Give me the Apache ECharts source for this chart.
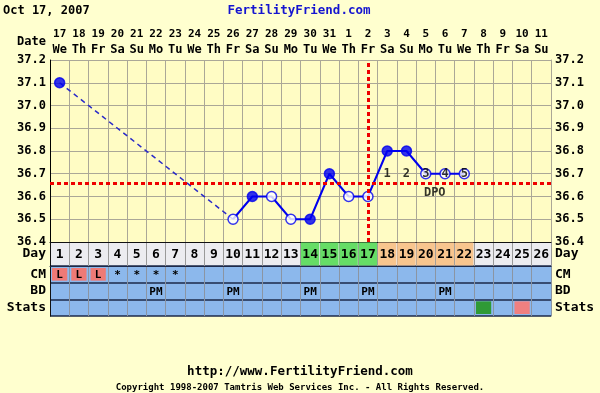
<!DOCTYPE html>
<html><head><meta charset="utf-8">
<script src="https://cdn.jsdelivr.net/npm/echarts@6/dist/echarts.min.js"></script>
<style>html,body{margin:0;padding:0;background:#ffffcf;}#c{width:600px;height:393px;}</style>
</head><body><div id="c"></div><script>
// ---- data ----
const days = ['1','2','3','4','5','6','7','8','9','10','11','12','13','14','15','16','17','18','19','20','21','22','23','24','25','26'];
const dateNums = ['17','18','19','20','21','22','23','24','25','26','27','28','29','30','31','1','2','3','4','5','6','7','8','9','10','11'];
const weekdays = ['We','Th','Fr','Sa','Su','Mo','Tu','We','Th','Fr','Sa','Su','Mo','Tu','We','Th','Fr','Sa','Su','Mo','Tu','We','Th','Fr','Sa','Su'];
const temps = [37.1,null,null,null,null,null,null,null,null,36.5,36.6,36.6,36.5,36.5,36.7,36.6,36.6,36.8,36.8,36.7,36.7,36.7,null,null,null,null];
const filledDays = ['1','11','14','15','18','19'];
const firstSolidDay = '10';
const coverline = 36.66;
const ovulationDay = '17';
const dpo = ['','','','','','','','','','','','','','','','','','1','2','3','4','5','','','',''];
const dpoLevel = 36.7;
const dpoCaptionDay = '20';
const fertileDays = ['14','15','16','17'];
const lutealDays = ['18','19','20','21','22'];
const rowNames = ['CM','BD','Stats'];
const cm = ['L','L','L','*','*','*','*','','','','','','','','','','','','','','','','','','',''];
const bd = ['','','','','','PM','','','','PM','','','','PM','','','PM','','','','PM','','','','',''];
const stats = ['','','','','','','','','','','','','','','','','','','','','','','G','','P',''];
const yTicks = {min:36.4, max:37.2, step:0.1};

// ---- chart ----
const MONO = '"DejaVu Sans Mono", monospace';
const GRIDC = '#aba797';
const L = 50, R = 49;
const chart = echarts.init(document.getElementById('c'), null, {renderer:'canvas'});
const solidStart = days.indexOf(firstSolidDay);
const dashedData = temps.map((v,i)=> i<=solidStart ? v : null);
const solidData = temps.map((v,i)=> i>=solidStart ? v : null);
const pointData = [];
temps.forEach((v,i)=>{
  if (v==null) return;
  const filled = filledDays.includes(days[i]);
  pointData.push({value:[i,v], itemStyle:{color: filled ? '#0000f0' : '#ffffff', borderColor:'#0000f0', borderWidth:1.5}});
});
const dpoData = [];
dpo.forEach((t,i)=>{ if(t) dpoData.push({value:[i,dpoLevel], label:{formatter:t}}); });
dpoData.push({value:[days.indexOf(dpoCaptionDay), dpoLevel], label:{formatter:'DPO', offset:[9,19]}});

const dayCells = days.map((d,i)=>[i,0]);
const lowerCells = [];
const lowerRows = [cm, bd, stats];
lowerRows.forEach((row,r)=>row.forEach((t,i)=>lowerCells.push({value:[i,r], txt:t, row:rowNames[r]})));

const labelStyle = {fontFamily:MONO, fontWeight:'bold', fontSize:12, color:'#000'};

const option = {
  backgroundColor:'#ffffcf',
  animation:false,
  grid:[
    {left:L,right:R,top:60,height:182,show:true,backgroundColor:'#fffcc4',borderWidth:0},
    {left:L,right:R,top:242,height:24,show:true,backgroundColor:'#ececf0',borderWidth:0},
    {left:L,right:R,top:266,height:50,show:true,backgroundColor:'#8cb8ec',borderWidth:0}
  ],
  xAxis:[
    {gridIndex:0,type:'category',data:days,position:'top',boundaryGap:true,
     axisLine:{show:false},axisTick:{show:false},
     splitLine:{show:true,interval:0,lineStyle:{color:GRIDC,width:1}},
     axisLabel:{interval:0,margin:3,lineHeight:15,
       formatter:(v,i)=>'{d|'+dateNums[i]+'}\n{w|'+weekdays[i]+'}',
       rich:{d:{fontFamily:MONO,fontWeight:'bold',fontSize:11,color:'#000',lineHeight:15},
             w:{fontFamily:MONO,fontWeight:'bold',fontSize:12,color:'#000',lineHeight:15}}}},
    {gridIndex:1,type:'category',data:days,position:'top',
     axisLine:{show:true,lineStyle:{color:'#111',width:1}},axisTick:{show:false},axisLabel:{show:false},
     splitLine:{show:true,interval:0,lineStyle:{color:'#9a9a9a'}}},
    {gridIndex:2,type:'category',data:days,position:'top',
     axisLine:{show:true,lineStyle:{color:'#1d2a4a',width:1}},axisTick:{show:false},axisLabel:{show:false},
     splitLine:{show:true,interval:0,lineStyle:{color:'#8b95a3'}}}
  ],
  yAxis:[
    {gridIndex:0,type:'value',min:yTicks.min,max:yTicks.max,interval:yTicks.step,position:'left',
     axisLine:{show:true,lineStyle:{color:'#000',width:1}},axisTick:{show:false},
     splitLine:{show:true,lineStyle:{color:GRIDC,width:1}},
     axisLabel:Object.assign({margin:4,formatter:v=>v.toFixed(1)},labelStyle)},
    {gridIndex:0,type:'value',min:yTicks.min,max:yTicks.max,interval:yTicks.step,position:'right',
     axisLine:{show:true,lineStyle:{color:GRIDC,width:1}},axisTick:{show:false},splitLine:{show:false},
     axisLabel:Object.assign({margin:4,formatter:v=>v.toFixed(1)},labelStyle)},
    {gridIndex:1,type:'category',data:['Day'],position:'left',
     axisLine:{show:true,lineStyle:{color:'#111'}},axisTick:{show:false},
     axisLabel:Object.assign({margin:4,interval:0},labelStyle,{fontSize:13})},
    {gridIndex:1,type:'category',data:['Day'],position:'right',
     axisLine:{show:true,lineStyle:{color:'#9a9a9a'}},axisTick:{show:false},
     axisLabel:Object.assign({margin:4,interval:0},labelStyle,{fontSize:13})},
    {gridIndex:2,type:'category',data:rowNames,inverse:true,position:'left',
     axisLine:{show:true,lineStyle:{color:'#111'}},axisTick:{show:false},
     splitLine:{show:true,interval:0,lineStyle:{color:'#1d2a4a',width:1.5}},
     axisLabel:Object.assign({margin:4,interval:0,hideOverlap:false},labelStyle,{fontSize:13})},
    {gridIndex:2,type:'category',data:rowNames,inverse:true,position:'right',
     axisLine:{show:true,lineStyle:{color:'#8b95a3'}},axisTick:{show:false},
     axisLabel:Object.assign({margin:4,interval:0,hideOverlap:false},labelStyle,{fontSize:13})}
  ],
  graphic:[
    {type:'text',x:3,y:11,style:{text:'Oct 17, 2007',font:'bold 12px '+MONO,fill:'#000',align:'left',verticalAlign:'middle'}},
    {type:'text',x:299,y:11,style:{text:'FertilityFriend.com',font:'bold 12.5px '+MONO,fill:'#1515d0',align:'center',verticalAlign:'middle'}},
    {type:'text',x:46,y:42,style:{text:'Date',font:'bold 12px '+MONO,fill:'#000',align:'right',verticalAlign:'middle'}},
    {type:'text',x:300,y:372,style:{text:'http://www.FertilityFriend.com',font:'bold 12.5px '+MONO,fill:'#000',align:'center',verticalAlign:'middle'}},
    {type:'text',x:300,y:388,style:{text:'Copyright 1998-2007 Tamtris Web Services Inc. - All Rights Reserved.',font:'bold 9px '+MONO,fill:'#000',align:'center',verticalAlign:'middle'}}
  ],
  series:[
    {type:'line',xAxisIndex:0,yAxisIndex:0,data:dashedData,connectNulls:true,symbol:'none',z:2,
     lineStyle:{color:'#2a2ac8',width:1.5,type:[5,4]}},
    {type:'line',xAxisIndex:0,yAxisIndex:0,data:solidData,connectNulls:false,symbol:'none',z:3,
     lineStyle:{color:'#0000ee',width:2},
     markLine:{silent:true,symbol:['none','none'],label:{show:false},
       lineStyle:{color:'#ee0000',width:3,type:[4,3]},
       data:[{yAxis:coverline},{xAxis:ovulationDay}]}},
    {type:'scatter',xAxisIndex:0,yAxisIndex:0,data:pointData,symbol:'circle',symbolSize:10,z:4},
    {type:'scatter',xAxisIndex:0,yAxisIndex:0,data:dpoData,symbolSize:1,z:6,
     itemStyle:{color:'rgba(0,0,0,0)'},
     label:{show:true,position:'inside',fontFamily:MONO,fontWeight:'bold',fontSize:12,color:'#000'}},
    {type:'custom',xAxisIndex:1,yAxisIndex:2,data:dayCells,z:3,
     renderItem:(params,api)=>{
       const i = api.value(0);
       const c = api.coord([i,0]); const s = api.size([1,1]);
       const d = days[i];
       const children = [];
       let fill = null;
       if (fertileDays.includes(d)) fill = '#66dd66';
       else if (lutealDays.includes(d)) fill = '#f8c58e';
       if (fill) children.push({type:'rect',shape:{x:c[0]-s[0]/2+0.5,y:c[1]-s[1]/2+0.5,width:s[0]-1,height:s[1]-1},style:{fill:fill}});
       children.push({type:'text',style:{text:d,x:c[0],y:c[1]+1,align:'center',verticalAlign:'middle',font:'bold 13px '+MONO,fill:'#000'}});
       return {type:'group',children:children};
     }},
    {type:'custom',xAxisIndex:2,yAxisIndex:4,data:lowerCells,z:3,
     renderItem:(params,api)=>{
       const item = lowerCells[params.dataIndex];
       const c = api.coord([api.value(0),api.value(1)]); const s = api.size([1,1]);
       const children = [];
       let fill = null;
       if (item.row==='CM' && item.txt==='L') fill = '#ee7a76';
       if (item.row==='Stats' && item.txt==='G') fill = '#2f9a35';
       if (item.row==='Stats' && item.txt==='P') fill = '#f08080';
       if (fill) children.push({type:'rect',shape:{x:c[0]-s[0]/2+2,y:c[1]-s[1]/2+2,width:s[0]-4,height:s[1]-4},style:{fill:fill}});
       if (item.txt && item.row!=='Stats') children.push({type:'text',style:{text:item.txt,x:c[0],y:c[1]+1,align:'center',verticalAlign:'middle',font:'bold 11px '+MONO,fill:'#000'}});
       return {type:'group',children:children};
     }}
  ]
};
chart.setOption(option);
</script></body></html>
